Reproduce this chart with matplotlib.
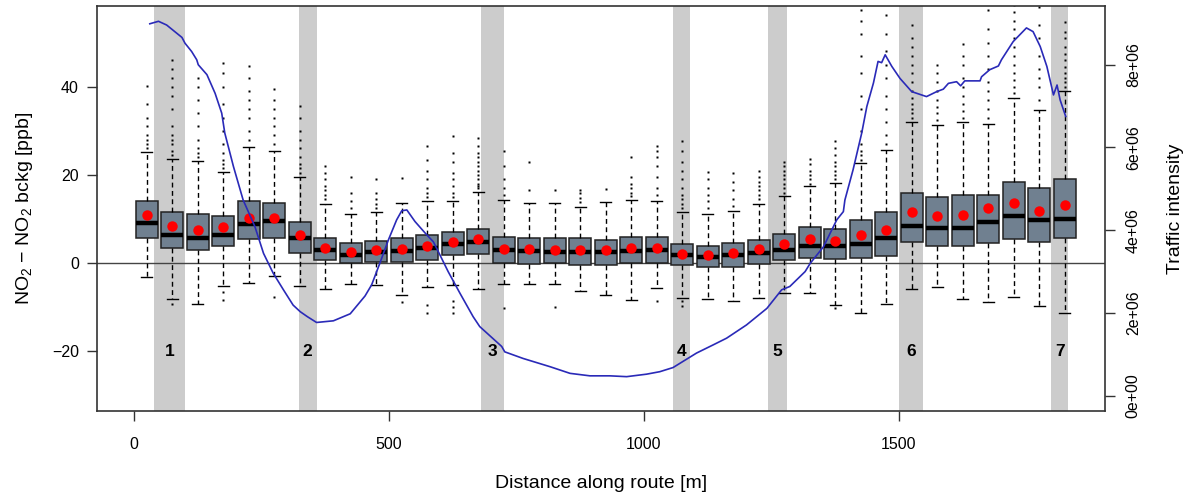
import matplotlib
matplotlib.use("Agg")
import matplotlib.pyplot as plt
from matplotlib.ticker import FuncFormatter
import numpy as np

plt.rcParams['font.family'] = ['Liberation Sans', 'DejaVu Sans']
plt.rcParams['mathtext.fontset'] = 'custom'
plt.rcParams['mathtext.rm'] = 'Liberation Sans'
plt.rcParams['mathtext.it'] = 'Liberation Sans:italic'

# ── Data ──────────────────────────────────────────────────────────────────────
positions = np.arange(25, 1826, 50)

q1 = [5.7, 3.4, 2.9, 3.8, 5.5, 5.8, 2.3, 0.7, 0.0, 0.3, 0.3, 0.75, 1.9,
      2.1, 0.0, -0.2, 0.0, -0.4, -0.4, 0.0, 0.0, -0.5, -0.8, -0.8, -0.2,
      0.75, 1.1, 0.9, 1.1, 1.7, 4.8, 4.0, 4.0, 4.5, 5.4, 4.9, 5.6]
med = [9.0, 6.3, 5.8, 6.5, 8.8, 9.6, 5.7, 3.0, 1.9, 2.5, 2.8, 3.4, 4.3,
       4.8, 2.9, 2.8, 2.6, 2.5, 2.6, 2.8, 3.0, 1.9, 1.4, 1.9, 2.4,
       2.9, 3.9, 3.8, 4.3, 5.7, 8.5, 7.9, 8.0, 9.3, 10.7, 9.8, 10.1]
q3 = [14.0, 11.6, 11.1, 10.8, 14.0, 13.7, 9.3, 5.8, 4.5, 5.0, 5.8, 6.3, 7.0,
      7.8, 5.9, 5.7, 5.7, 5.7, 5.3, 6.0, 5.9, 4.4, 4.0, 4.5, 5.3,
      6.6, 8.1, 7.8, 9.8, 11.6, 15.9, 15.0, 15.5, 15.5, 18.3, 17.0, 19.0]
whislo = [-3.2, -8.1, -9.2, -5.1, -4.4, -3.0, -5.1, -5.8, -4.8, -4.9, -7.2,
          -5.3, -4.9, -5.9, -4.8, -4.7, -4.8, -6.2, -7.3, -8.3, -5.7, -7.8,
          -8.1, -8.5, -8.0, -6.7, -6.7, -9.5, -11.2, -9.2, -5.9, -5.4, -8.1,
          -8.7, -7.7, -9.8, -11.3]
whishi = [25.1, 23.6, 23.2, 20.7, 26.3, 25.4, 19.5, 13.4, 11.1, 11.7, 13.6,
          14.0, 14.1, 16.2, 14.3, 13.6, 13.7, 12.8, 13.8, 14.3, 14.0, 11.7,
          11.1, 11.9, 13.4, 15.2, 17.4, 18.1, 22.6, 25.7, 31.9, 31.3, 32.0,
          31.5, 37.4, 34.7, 39.1]
means = [11.0, 8.5, 7.5, 8.3, 10.3, 10.3, 6.3, 3.4, 2.6, 3.0, 3.3, 3.8, 4.8,
         5.4, 3.2, 3.2, 2.9, 2.9, 2.9, 3.5, 3.4, 2.1, 1.9, 2.3, 3.2,
         4.4, 5.4, 5.1, 6.3, 7.5, 11.5, 10.8, 10.9, 12.5, 13.6, 11.9, 13.2]
outliers = [
    [26, 27, 28, 29, 31, 33, 36, 40.2],
    [24.5, 25.5, 27, 28, 29, 31, 35, 38, 40, 42, 44, 46, -9.2],
    [24, 25, 26, 28, 31, 34, 37, 40, 42],
    [21.5, 22.5, 23.5, 25, 27, 30, 33, 36, 40, 43, 45.3, -6.5, -8.3],
    [28, 30, 33, 35, 37, 39, 42, 44.7],
    [27, 29, 31, 33, 35, 37, 39.4, -7.6],
    [20.5, 21.5, 22.5, 24, 26, 28, 30, 33, 35.6],
    [14.5, 15.5, 16.5, 17.5, 19, 20.5, 22.1],
    [12.5, 14, 16, 19.5],
    [12.5, 13.5, 14.5, 16, 19.1],
    [19.4, -8.7],
    [15, 16, 17, 19, 21, 23.5, 26.6, -9.5, -11.2],
    [15, 16, 17.5, 19, 20.5, 23, 25, 28.9, -8.5, -10, -11.3],
    [17, 17.5, 18, 19, 20, 21, 22, 23, 24, 25, 26.5, 28.4],
    [15.5, 17, 19, 22, 25.4, -10.2],
    [16.5, 23.0],
    [16.7, -10.0],
    [13.8, 14.8, 15.8, 16.7],
    [16.8],
    [15.2, 16, 17, 18, 19.5, 24.1],
    [15.5, 17, 19.5, 22, 24, 25.5, 26.6, -8.5],
    [12.5, 13.5, 14.5, 15.5, 17, 19, 21, 23, 25.5, 27.8, -8.5, -9.8],
    [12.5, 14, 15.5, 17, 19, 20.6],
    [13, 14.5, 16.5, 18.5, 20.4],
    [14.5, 15.5, 16.5, 17.5, 18.5, 19.5, 21.0],
    [16, 17, 18, 19, 20, 21, 22, 23.0],
    [18, 19, 20, 21, 22.5, 23.6],
    [19, 20, 21, 22, 23, 24.5, 26, 27.7, -10.2],
    [23.5, 24.5, 25.5, 27, 30, 35, 38, 43, 47, 52, 55, 57.4],
    [27, 29, 32, 35, 38, 42, 45, 48, 52, 56.2],
    [33, 34, 35, 36, 37.5, 39, 41, 43, 45, 47, 49, 51, 54.1],
    [32.5, 34, 35.5, 37, 39, 41, 43, 44.9],
    [33, 34.5, 36, 38, 40, 42, 45, 47, 49.6],
    [33, 35, 37, 39, 41, 44, 47, 50, 53, 57.4],
    [38.5, 40, 41.5, 43, 45, 47, 49, 51, 53, 55, 57, 58.5],
    [37, 40, 42, 44, 47, 51, 54, 58],
    [40, 41, 42, 43, 44.5, 46, 47.5, 49, 51, 52.5, 54.7],
]

# intersections (grey bands): start, end [m]
band_start = [39, 323, 680, 1056, 1243, 1501, 1798]
band_end = [100, 358, 725, 1090, 1280, 1548, 1832]
band_labels = ['1', '2', '3', '4', '5', '6', '7']

# traffic intensity along route
traffic_dist = [31, 48, 64, 84, 94, 100, 113, 123, 126, 143, 159, 172, 178,
                195, 214, 237, 254, 273, 293, 312, 326, 340, 358, 391, 424,
                453, 466, 482, 499, 515, 525, 535, 551, 571, 587, 600, 616,
                639, 665, 678, 721, 727, 763, 816, 855, 894, 933, 966, 1005,
                1031, 1057, 1103, 1136, 1162, 1201, 1241, 1270, 1286, 1316,
                1326, 1352, 1378, 1391, 1394, 1410, 1427, 1437, 1450, 1459,
                1466, 1473, 1486, 1502, 1525, 1554, 1574, 1587, 1597, 1613,
                1621, 1629, 1659, 1662, 1678, 1695, 1701, 1724, 1750, 1763,
                1777, 1790, 1803, 1810, 1816, 1827]
traffic_val = [8.99, 9.05, 8.96, 8.76, 8.66, 8.52, 8.32, 8.12, 8.00, 7.76,
               7.31, 6.83, 6.35, 5.54, 4.73, 4.09, 3.44, 2.96, 2.56, 2.19,
               2.03, 1.91, 1.77, 1.81, 1.98, 2.41, 2.68, 3.20, 3.77, 4.25,
               4.47, 4.49, 4.21, 3.93, 3.72, 3.40, 3.00, 2.48, 1.91, 1.67,
               1.19, 1.06, 0.90, 0.70, 0.54, 0.48, 0.48, 0.46, 0.52, 0.58,
               0.68, 1.03, 1.23, 1.39, 1.71, 2.11, 2.56, 2.64, 3.00, 3.20,
               3.60, 4.25, 4.45, 4.73, 5.46, 6.35, 6.99, 7.56, 8.08, 8.05,
               8.24, 7.96, 7.67, 7.35, 7.23, 7.35, 7.41, 7.55, 7.59, 7.49,
               7.61, 7.61, 7.71, 7.88, 7.97, 8.12, 8.56, 8.89, 8.80, 8.44,
               7.96, 7.27, 7.51, 7.15, 6.75]

# ── Plot ──────────────────────────────────────────────────────────────────────
fig = plt.figure(figsize=(11.92, 4.95), dpi=100)
ax = fig.add_axes([0.0814, 0.1697, 0.8456, 0.8182])

for s, e in zip(band_start, band_end):
    ax.axvspan(s, e, color='#cccccc', lw=0, zorder=0)
for s, e, lab in zip(band_start, band_end, band_labels):
    ax.text((s + e) / 2, -20, lab, ha='center', va='center',
            fontsize=12.5, fontweight='bold', zorder=1)

ax.axhline(0, color='#444444', lw=1.0, zorder=1)

stats = [dict(q1=a, med=b, q3=c, whislo=d, whishi=e, fliers=f)
         for a, b, c, d, e, f in zip(q1, med, q3, whislo, whishi, outliers)]
ax.bxp(stats, positions=positions, widths=42.5, capwidths=21,
       patch_artist=True, manage_ticks=False, zorder=2,
       boxprops=dict(facecolor='#708090', edgecolor='#222222', lw=1.1),
       medianprops=dict(color='black', lw=3.2, solid_capstyle='butt'),
       whiskerprops=dict(color='black', lw=1.0, linestyle=(0, (3.5, 2.5))),
       capprops=dict(color='black', lw=1.0),
       flierprops=dict(marker='s', markersize=1.8, markerfacecolor='black',
                       markeredgecolor='none', linestyle='none'))
ax.plot(positions, means, 'o', color='#ff0000', ms=7.5, mec='none', zorder=3)

ax.set_xlim(-72.5, 1904)
ax.set_ylim(-33.5, 58.3)
ax.set_xticks([0, 500, 1000, 1500])
ax.set_yticks([-20, 0, 20, 40])
ax.tick_params(axis='both', direction='out', length=7, width=1,
               color='#333333', labelsize=11.5, pad=6)
ax.tick_params(axis='x', pad=12)
for sp in ax.spines.values():
    sp.set_color('#333333')
    sp.set_linewidth(1.2)
ax.set_xlabel('Distance along route [m]', fontsize=14, labelpad=16)
ax.set_ylabel(r'NO$_2$ − NO$_2$ bckg [ppb]', fontsize=14, labelpad=12)

ax2 = ax.twinx()
ax2.plot(traffic_dist, np.array(traffic_val) * 1e6, color='#2a2ab8', lw=1.2)
ax2.set_ylim(-0.37e6, 9.42e6)
ax2.set_yticks([0, 2e6, 4e6, 6e6, 8e6])
ax2.yaxis.set_major_formatter(FuncFormatter(lambda v, p: f"{v:.0e}"))
ax2.tick_params(axis='y', direction='out', length=7, width=1,
                color='#333333', labelsize=11.5, pad=8)
for lab in ax2.get_yticklabels():
    lab.set_rotation(90)
    lab.set_va('center')
for sp in ax2.spines.values():
    sp.set_visible(False)
ax2.set_ylabel('Traffic intensity', fontsize=14, labelpad=19)

fig.savefig('out.png', dpi=100)
